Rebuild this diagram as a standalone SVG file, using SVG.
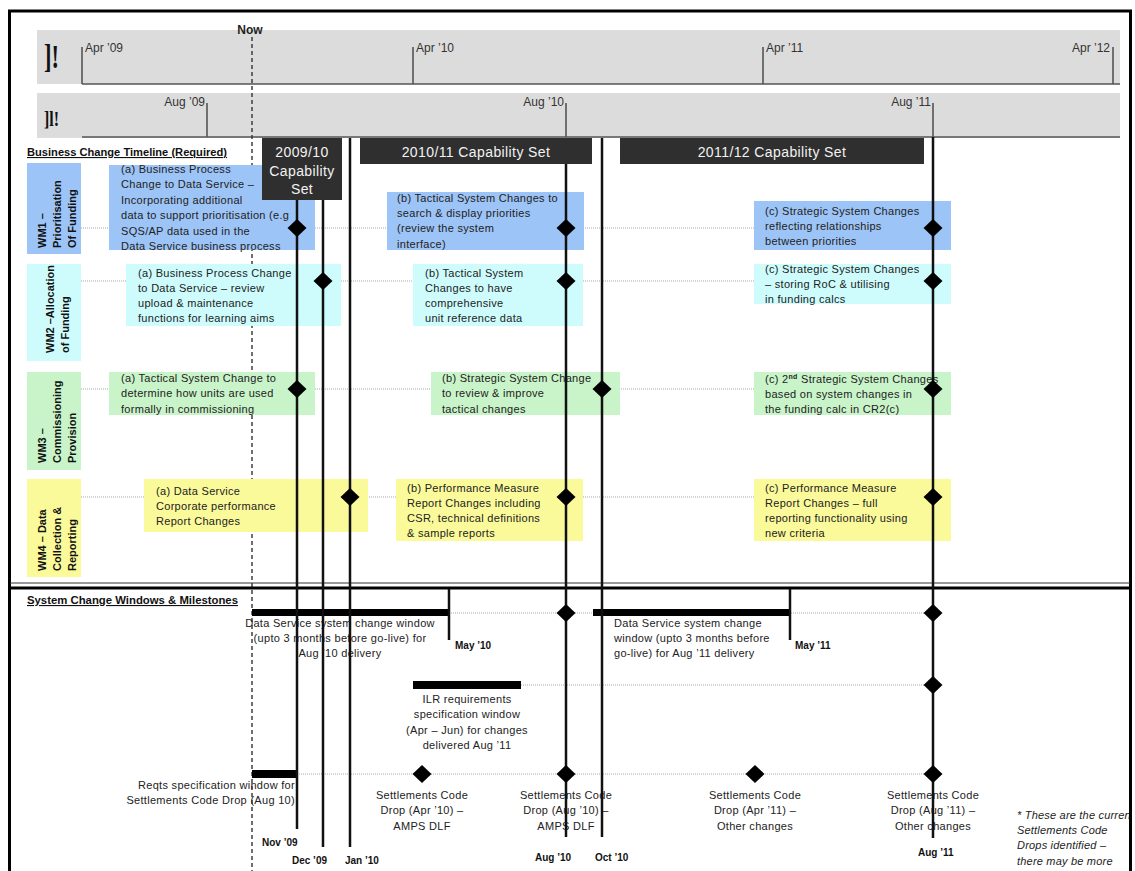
<svg xmlns="http://www.w3.org/2000/svg" width="1135" height="871" viewBox="0 0 1135 871">
  <defs>
    <style>
      text { font-family: "Liberation Sans", Arial, sans-serif; fill: #222; }
      .t { font-size: 11px; letter-spacing: 0.3px; }
      .c { text-anchor: middle; }
      .e { text-anchor: end; }
      .lbl { font-size: 11px; font-weight: bold; fill: #111; }
      .hdr { font-size: 11px; font-weight: bold; text-decoration: underline; fill: #111; }
      .tick { font-size: 12px; fill: #333; }
      .cap { font-size: 14px; fill: #f2f2f2; text-anchor: middle; letter-spacing: 0.4px; }
      .mon { font-size: 10px; font-weight: bold; fill: #111; }
      .note { font-size: 11px; font-style: italic; letter-spacing: 0.2px; }
      .glyph { font-family: "Liberation Serif", serif; font-weight: bold; fill: #111; }
      .band { fill: #dcdcdc; }
      .bandline { stroke: #555; stroke-width: 1.6; fill: none; }
      .cb { fill: #2f2f2f; }
      .wm1 { fill: #9dc4f6; }
      .wm2 { fill: #cefcfc; }
      .wm3 { fill: #c9f4c9; }
      .wm4 { fill: #fbfa9b; }
      .dot { stroke: #aaa; stroke-width: 1; stroke-dasharray: 1 1; fill: none; }
      .ms { stroke: #111; stroke-width: 2.5; fill: none; }
      .bar { fill: #000; }
      .dia { fill: #000; }
    </style>
    <path id="d" d="M0,-9 L9.5,0 L0,9 L-9.5,0 Z"/>
    <clipPath id="frameClip"><rect x="10" y="12" width="1119" height="859"/></clipPath>
  </defs>

  <rect width="1135" height="871" fill="#fff"/>

  <!-- outer frame -->
  <path d="M9.5,871 V11 H1130.5 V871" fill="none" stroke="#000" stroke-width="3"/>

  <!-- financial year band -->
  <g id="fy-band">
    <rect class="band" x="37" y="30" width="1083" height="54"/>
    <text class="glyph" font-size="30" transform="translate(44 68) scale(0.75 1.1)">]!</text>
    <path class="bandline" d="M82,84 H1120 M82,47 V84 M413,47 V84 M763,47 V84 M1113,47 V84"/>
    <text class="tick" x="85" y="52">Apr ’09</text>
    <text class="tick" x="416" y="52">Apr ’10</text>
    <text class="tick" x="766" y="52">Apr ’11</text>
    <text class="tick e" x="1110" y="52">Apr ’12</text>
  </g>

  <!-- academic year band -->
  <g id="ay-band">
    <rect class="band" x="37" y="93" width="1083" height="45"/>
    <text class="glyph" font-size="20" transform="translate(44 126) scale(0.8 1)">]l!</text>
    <path class="bandline" d="M82,137 H1120 M207,103 V137 M566,103 V137 M933,103 V137"/>
    <text class="tick e" x="205" y="106">Aug ’09</text>
    <text class="tick e" x="564" y="106">Aug ’10</text>
    <text class="tick e" x="931" y="106">Aug ’11</text>
  </g>

  <!-- now marker -->
  <g id="now">
    <text x="250" y="34" font-size="12" font-weight="bold" fill="#111" text-anchor="middle">Now</text>
    <line x1="252" y1="37" x2="252" y2="871" stroke="#333" stroke-width="1.4" stroke-dasharray="4 3"/>
  </g>

  <!-- section headings -->
  <text id="hdr-business" class="hdr" x="27" y="156" textLength="200" lengthAdjust="spacingAndGlyphs">Business Change Timeline (Required)</text>
  <text id="hdr-system" class="hdr" x="27" y="604" textLength="211" lengthAdjust="spacingAndGlyphs">System Change Windows &amp; Milestones</text>

  <!-- section divider -->
  <path d="M10,583 H1130" stroke="#333" stroke-width="1"/>
  <path d="M10,588 H1130" stroke="#000" stroke-width="3"/>

  <!-- row guide lines -->
  <g id="row-guides">
    <line class="dot" x1="81" y1="228" x2="951" y2="228"/>
    <line class="dot" x1="81" y1="281" x2="951" y2="281"/>
    <line class="dot" x1="81" y1="389" x2="951" y2="389"/>
    <line class="dot" x1="81" y1="497" x2="951" y2="497"/>
    <line class="dot" x1="449" y1="613" x2="933" y2="613"/>
    <line class="dot" x1="521" y1="685" x2="933" y2="685"/>
    <line class="dot" x1="297" y1="774" x2="933" y2="774"/>
  </g>

  <!-- workstream labels -->
  <g id="wm1-label">
    <rect class="wm1" x="27" y="163" width="54" height="91"/>
    <g transform="translate(0 248) rotate(-90)">
      <text class="lbl" x="0" y="46">WM1 –</text>
      <text class="lbl" x="0" y="61">Prioritisation</text>
      <text class="lbl" x="0" y="76">Of Funding</text>
    </g>
  </g>
  <g id="wm2-label">
    <rect class="wm2" x="27" y="264" width="54" height="97"/>
    <g transform="translate(0 353) rotate(-90)">
      <text class="lbl" x="0" y="54">WM2 –Allocation</text>
      <text class="lbl" x="0" y="69">of Funding</text>
    </g>
  </g>
  <g id="wm3-label">
    <rect class="wm3" x="27" y="372" width="54" height="98"/>
    <g transform="translate(0 463) rotate(-90)">
      <text class="lbl" x="0" y="46">WM3 –</text>
      <text class="lbl" x="0" y="61">Commissioning</text>
      <text class="lbl" x="0" y="76">Provision</text>
    </g>
  </g>
  <g id="wm4-label">
    <rect class="wm4" x="27" y="479" width="54" height="98"/>
    <g transform="translate(0 571) rotate(-90)">
      <text class="lbl" x="0" y="46">WM4 – Data</text>
      <text class="lbl" x="0" y="61">Collection &amp;</text>
      <text class="lbl" x="0" y="76">Reporting</text>
    </g>
  </g>

  <!-- WM1 items -->
  <g id="wm1-a">
    <rect class="wm1" x="109" y="165" width="206" height="85"/>
    <text class="t" x="121" y="173">(a) Business Process</text>
    <text class="t" x="121" y="188.4">Change to Data Service –</text>
    <text class="t" x="121" y="203.8">Incorporating additional</text>
    <text class="t" x="121" y="219.2">data to support prioritisation (e.g</text>
    <text class="t" x="121" y="234.6">SQS/AP data used in the</text>
    <text class="t" x="121" y="250">Data Service business process</text>
  </g>
  <g id="wm1-b">
    <rect class="wm1" x="387" y="192" width="197" height="58"/>
    <text class="t" x="397" y="202">(b) Tactical System  Changes to</text>
    <text class="t" x="397" y="217">search &amp; display priorities</text>
    <text class="t" x="397" y="232">(review the system</text>
    <text class="t" x="397" y="248">interface)</text>
  </g>
  <g id="wm1-c">
    <rect class="wm1" x="754" y="201" width="197" height="49"/>
    <text class="t" x="765" y="215">(c) Strategic System  Changes</text>
    <text class="t" x="765" y="230">reflecting relationships</text>
    <text class="t" x="765" y="245">between priorities</text>
  </g>

  <!-- WM2 items -->
  <g id="wm2-a">
    <rect class="wm2" x="126" y="264" width="215" height="62"/>
    <text class="t" x="138" y="277">(a) Business Process Change</text>
    <text class="t" x="138" y="292">to Data Service – review</text>
    <text class="t" x="138" y="307">upload &amp; maintenance</text>
    <text class="t" x="138" y="322">functions for learning aims</text>
  </g>
  <g id="wm2-b">
    <rect class="wm2" x="413" y="264" width="170" height="62"/>
    <text class="t" x="425" y="277">(b) Tactical System</text>
    <text class="t" x="425" y="292">Changes to have</text>
    <text class="t" x="425" y="307">comprehensive</text>
    <text class="t" x="425" y="322">unit reference data</text>
  </g>
  <g id="wm2-c">
    <rect class="wm2" x="754" y="264" width="197" height="40"/>
    <text class="t" x="765" y="273">(c) Strategic System  Changes</text>
    <text class="t" x="765" y="288">– storing RoC &amp; utilising</text>
    <text class="t" x="765" y="303">in funding calcs</text>
  </g>

  <!-- WM3 items -->
  <g id="wm3-a">
    <rect class="wm3" x="109" y="372" width="206" height="43"/>
    <text class="t" x="121" y="382">(a) Tactical System Change to</text>
    <text class="t" x="121" y="397">determine how units are used</text>
    <text class="t" x="121" y="413">formally in commissioning</text>
  </g>
  <g id="wm3-b">
    <rect class="wm3" x="431" y="372" width="189" height="43"/>
    <text class="t" x="442" y="382">(b) Strategic System  Change</text>
    <text class="t" x="442" y="397">to review &amp; improve</text>
    <text class="t" x="442" y="413">tactical changes</text>
  </g>
  <g id="wm3-c">
    <rect class="wm3" x="754" y="372" width="197" height="43"/>
    <text class="t" x="765" y="383">(c) 2<tspan font-size="7" font-weight="bold" dy="-4">nd</tspan><tspan dy="4"> Strategic System Changes</tspan></text>
    <text class="t" x="765" y="398">based on system changes in</text>
    <text class="t" x="765" y="413">the funding calc in CR2(c)</text>
  </g>

  <!-- WM4 items -->
  <g id="wm4-a">
    <rect class="wm4" x="144" y="479" width="224" height="53"/>
    <text class="t" x="156" y="495">(a) Data Service</text>
    <text class="t" x="156" y="510">Corporate performance</text>
    <text class="t" x="156" y="525">Report Changes</text>
  </g>
  <g id="wm4-b">
    <rect class="wm4" x="396" y="479" width="187" height="62"/>
    <text class="t" x="407" y="492">(b) Performance Measure</text>
    <text class="t" x="407" y="507">Report  Changes including</text>
    <text class="t" x="407" y="522">CSR, technical definitions</text>
    <text class="t" x="407" y="537">&amp; sample reports</text>
  </g>
  <g id="wm4-c">
    <rect class="wm4" x="754" y="479" width="197" height="62"/>
    <text class="t" x="765" y="492">(c) Performance Measure</text>
    <text class="t" x="765" y="507">Report  Changes – full</text>
    <text class="t" x="765" y="522">reporting functionality using</text>
    <text class="t" x="765" y="537">new criteria</text>
  </g>

  <!-- system change windows -->
  <g id="window-aug10">
    <rect class="bar" x="252" y="609" width="197" height="7"/>
    <text class="t c" x="340" y="627">Data Service system change window</text>
    <text class="t c" x="340" y="642">(upto 3 months before go-live) for</text>
    <text class="t c" x="340" y="657">Aug ’10 delivery</text>
  </g>
  <g id="window-aug11">
    <rect class="bar" x="593" y="609" width="197" height="7"/>
    <text class="t" x="614" y="627">Data Service system change</text>
    <text class="t" x="614" y="642">window (upto 3 months before</text>
    <text class="t" x="614" y="657">go-live) for Aug ’11 delivery</text>
  </g>
  <g id="window-ilr">
    <rect class="bar" x="413" y="681" width="108" height="8"/>
    <text class="t c" x="467" y="703">ILR requirements</text>
    <text class="t c" x="467" y="718">specification window</text>
    <text class="t c" x="467" y="734">(Apr – Jun) for changes</text>
    <text class="t c" x="467" y="749">delivered Aug ’11</text>
  </g>
  <g id="window-reqts">
    <rect class="bar" x="252" y="770" width="45" height="8"/>
    <text class="t e" x="295" y="789">Reqts specification window for</text>
    <text class="t e" x="295" y="804">Settlements Code Drop (Aug 10)</text>
  </g>

  <!-- settlements code drops -->
  <g id="drop-apr10">
    <text class="t c" x="422" y="799">Settlements Code</text>
    <text class="t c" x="422" y="814">Drop (Apr ’10) –</text>
    <text class="t c" x="422" y="830">AMPS DLF</text>
  </g>
  <g id="drop-aug10">
    <text class="t c" x="566" y="799">Settlements Code</text>
    <text class="t c" x="566" y="814">Drop (Aug ’10) –</text>
    <text class="t c" x="566" y="830">AMPS DLF</text>
  </g>
  <g id="drop-apr11">
    <text class="t c" x="755" y="799">Settlements Code</text>
    <text class="t c" x="755" y="814">Drop (Apr ’11) –</text>
    <text class="t c" x="755" y="830">Other changes</text>
  </g>
  <g id="drop-aug11">
    <text class="t c" x="933" y="799">Settlements Code</text>
    <text class="t c" x="933" y="814">Drop (Aug ’11) –</text>
    <text class="t c" x="933" y="830">Other changes</text>
  </g>

  <!-- footnote -->
  <g id="footnote" clip-path="url(#frameClip)">
    <text class="note" x="1017" y="819">* These are the current</text>
    <text class="note" x="1017" y="834">Settlements Code</text>
    <text class="note" x="1017" y="849">Drops identified –</text>
    <text class="note" x="1017" y="865">there may be more</text>
  </g>

  <!-- connectors: milestone drop lines and window end markers -->
  <g id="connectors">
    <line class="ms" x1="449" y1="589" x2="449" y2="640" stroke-width="2"/>
    <line class="ms" x1="790" y1="589" x2="790" y2="640" stroke-width="2"/>
    <line class="ms" x1="297" y1="200" x2="297" y2="829"/>
    <line class="ms" x1="323" y1="200" x2="323" y2="847"/>
    <line class="ms" x1="350" y1="138" x2="350" y2="847"/>
    <line class="ms" x1="566" y1="138" x2="566" y2="837"/>
    <line class="ms" x1="602" y1="138" x2="602" y2="837"/>
    <line class="ms" x1="933" y1="137" x2="933" y2="838"/>
  </g>

  <!-- capability sets -->
  <g id="cap-2009">
    <rect class="cb" x="262" y="138" width="80" height="62"/>
    <text class="cap" x="302" y="157">2009/10</text>
    <text class="cap" x="302" y="176">Capability</text>
    <text class="cap" x="302" y="194">Set</text>
  </g>
  <g id="cap-2010">
    <rect class="cb" x="360" y="138" width="232" height="26"/>
    <text class="cap" x="476" y="157">2010/11 Capability Set</text>
  </g>
  <g id="cap-2011">
    <rect class="cb" x="620" y="138" width="304" height="26"/>
    <text class="cap" x="772" y="157">2011/12 Capability Set</text>
  </g>

  <!-- milestone markers -->
  <g id="milestones" class="dia">
    <use href="#d" x="297" y="228"/>
    <use href="#d" x="566" y="228"/>
    <use href="#d" x="933" y="228"/>
    <use href="#d" x="323" y="281"/>
    <use href="#d" x="566" y="281"/>
    <use href="#d" x="933" y="281"/>
    <use href="#d" x="297" y="389"/>
    <use href="#d" x="602" y="389"/>
    <use href="#d" x="933" y="389"/>
    <use href="#d" x="350" y="497"/>
    <use href="#d" x="566" y="497"/>
    <use href="#d" x="933" y="497"/>
    <use href="#d" x="566" y="613"/>
    <use href="#d" x="933" y="613"/>
    <use href="#d" x="933" y="685"/>
    <use href="#d" x="422" y="774"/>
    <use href="#d" x="566" y="774"/>
    <use href="#d" x="755" y="774"/>
    <use href="#d" x="933" y="774"/>
  </g>

  <!-- month labels -->
  <g id="month-labels">
    <text class="mon" x="455" y="649">May ’10</text>
    <text class="mon" x="795" y="649">May ’11</text>
    <text class="mon" x="262" y="846">Nov ’09</text>
    <text class="mon" x="292" y="864">Dec ’09</text>
    <text class="mon" x="345" y="864">Jan ’10</text>
    <text class="mon" x="535" y="861">Aug ’10</text>
    <text class="mon" x="595" y="861">Oct ’10</text>
    <text class="mon" x="918" y="856">Aug ’11</text>
  </g>
</svg>
